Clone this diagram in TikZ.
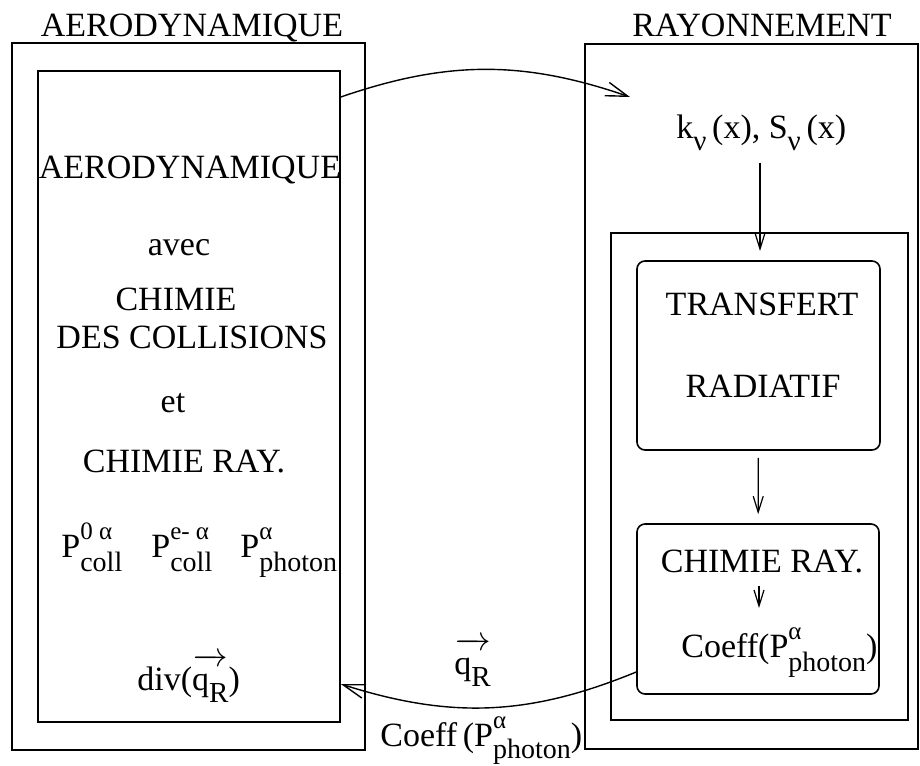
\documentclass[tikz,border=0pt]{standalone}
\usepackage{fontspec}
\setmainfont{Liberation Serif}
\usepackage{amsmath}
\usepackage{tikz}
\usetikzlibrary{arrows.meta}

% stacked super/subscript in text font
\newcommand{\supsub}[3][-7pt]{%
  \setbox0=\hbox{\fontsize{12.5}{12}\selectfont #2}%
  \setbox2=\hbox{\fontsize{14}{14}\selectfont #3}%
  \ifdim\wd0>\wd2 \dimen0=\wd0 \else \dimen0=\wd2 \fi
  \makebox[\dimen0][l]{\raisebox{9pt}{\copy0}\hskip-\wd0\raisebox{#1}{\copy2}}}
\newcommand{\lowsub}[1]{\raisebox{-6pt}{\fontsize{14.5}{14}\selectfont #1}}

\begin{document}
\begin{tikzpicture}[
    x=0.5pt, y=-0.5pt,
    frame/.style={
        rectangle, draw, line width=0.8pt, inner sep=0pt
    },
    rbox/.style={
        rectangle, draw, rounded corners=4pt, line width=0.8pt, inner sep=0pt
    },
    txt/.style={font=\fontsize{17}{19}\selectfont, anchor=base, inner sep=2pt},
    arr/.style={-{Straight Barb[length=8pt, width=5pt]}, line width=0.6pt},
    curved/.style={-{Straight Barb[length=11pt, width=7pt]}, line width=0.7pt}
]
\useasboundingbox (0,0) rectangle (920,765);
% boxes
\node[frame, minimum width=176.5pt, minimum height=353.5pt] (aeroout) at (188.5, 396.5) {};
\node[frame, minimum width=151pt, minimum height=325.5pt] (aeroin) at (189, 396.5) {};
\node[frame, minimum width=166.5pt, minimum height=352.5pt] (rayout) at (751.5, 396.5) {};
\node[frame, minimum width=148.5pt, minimum height=243.5pt] (rayin) at (759.5, 476.5) {};
\node[rbox, minimum width=121.5pt, minimum height=94.5pt] (transfert) at (758.5, 355.5) {};
\node[rbox, minimum width=121pt, minimum height=85pt] (chimie) at (758, 609) {};
% titles
\node[txt] (aerotitle) at (192, 37) {AERODYNAMIQUE};
\node[txt] (raytitle) at (762, 37) {RAYONNEMENT};
% left column
\node[txt] (aerotxt) at (190, 178) {AERODYNAMIQUE};
\node[txt] (avec) at (179, 255) {avec};
\node[txt] (chimcoll) at (176, 310) {CHIMIE};
\node[txt] (descoll) at (192, 348) {DES COLLISIONS};
\node[txt] (et) at (173, 412) {et};
\node[txt] (chimray) at (184, 472) {CHIMIE RAY.};
\node[txt, anchor=base west] (pcoll0) at (57, 557) {P\supsub{0 α}{coll}};
\node[txt, anchor=base west] (pcolle) at (147, 557) {P\supsub{e- α}{coll}};
\node[txt, anchor=base west] (pphot) at (236, 557) {P\supsub{α}{photon}};
\node[txt, anchor=base west] (divq) at (133, 690) {div($\overrightarrow{\vphantom{T}\text{q\lowsub{R}}}$)};
% right column
\node[txt, anchor=base west] (kS) at (672, 138) {k\lowsub{ν}\,(x), S\lowsub{ν}\,(x)};
\node[txt] (transtxt) at (762, 315) {TRANSFERT};
\node[txt] (radtxt) at (763, 397) {RADIATIF};
\node[txt] (chimtxt) at (762, 572) {CHIMIE RAY.};
\node[txt, anchor=base west] (coeffR) at (677, 657) {Coeff(P\supsub{α}{photon})};
% exchange labels
\node[txt, anchor=base west] (qR) at (450, 674) {$\overrightarrow{\vphantom{T}\text{q\lowsub{R}}}$};
\node[txt, anchor=base west] (coeffB) at (376, 746) {Coeff\,(P\supsub[-6pt]{α}{photon})};
% arrow ends
\coordinate (kin) at (760, 251);
\coordinate (ctip) at (759, 608);
\coordinate (topend) at (630, 97);
% connectors
\draw[arr, shorten <=4pt] (kS.south -| kin) -- (kin);
\draw[arr, shorten <=3.5pt, shorten >=4.5pt] (transfert) -- (chimie);
\draw[arr, shorten <=4.5pt] (chimtxt.south -| ctip) -- (ctip);
\draw[curved] ([yshift=149.75pt]aeroin.east) to[bend left=19] (topend);
\draw[curved] ([yshift=-31.5pt]chimie.west) to[bend left=20] ([yshift=-143.75pt]aeroin.east);
\end{tikzpicture}
\end{document}
